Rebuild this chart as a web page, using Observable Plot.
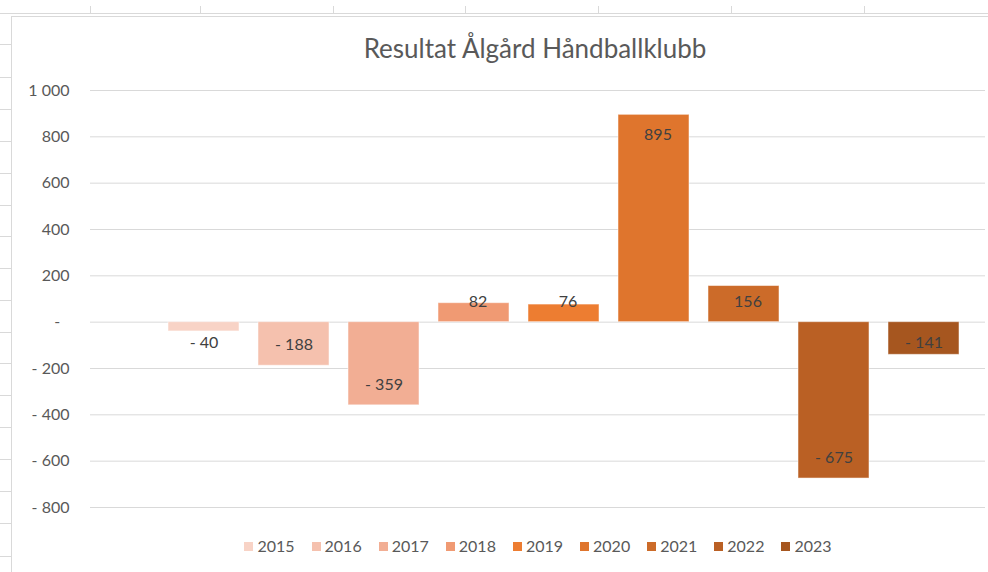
<!DOCTYPE html>
<html>
<head>
<meta charset="utf-8">
<script src="https://cdn.jsdelivr.net/npm/d3@7"></script>
<script src="https://cdn.jsdelivr.net/npm/@observablehq/plot@0.6"></script>
<style>
  html, body { margin: 0; padding: 0; background: #fff; }
  #page { position: relative; width: 988px; height: 572px; overflow: hidden; font-family: Lato, "Open Sans", sans-serif; }
  .ln { position: absolute; background: #d9d9d9; }
  #title { position: absolute; left: 0; width: 1070px; top: 35px; text-align: center; font-size: 26px; line-height: 26px; color: #595959; font-weight: 400; }
  #chart { position: absolute; left: 12px; top: 70px; }
  #legend { position: absolute; left: 0; width: 1076px; top: 536px; display: flex; justify-content: center; font-size: 16px; line-height: 20px; color: #595959; }
  .item { display: flex; align-items: center; margin: 0 8.5px; }
  .sw { width: 9px; height: 9px; margin-right: 4px; }
</style>
</head>
<body>
<div id="page">
  <div id="sheet"></div>
  <div id="title">Resultat Ålgård Håndballklubb</div>
  <div id="chart"></div>
  <div id="legend"></div>
</div>
<script>
// ---- data ----
const years = ["2015", "2016", "2017", "2018", "2019", "2020", "2021", "2022", "2023"];
const results = [-40, -188, -359, 82, 76, 895, 156, -675, -141];
const colors = ["#F8D3C6", "#F5C1AE", "#F2AE94", "#F09A73", "#ED7D31", "#DF752D", "#CC6B29", "#BA6024", "#A6561F"];
const yTicks = [-800, -600, -400, -200, 0, 200, 400, 600, 800, 1000];

const data = years.map((y, i) => ({ year: y, value: results[i] }));

// ---- spreadsheet background decoration ----
const sheet = document.getElementById("sheet");
function line(l, t, w, h) {
  const d = document.createElement("div");
  d.className = "ln";
  d.style.cssText = `left:${l}px;top:${t}px;width:${w}px;height:${h}px;`;
  sheet.appendChild(d);
}
line(0, 13, 988, 1);
[90, 200, 333, 465, 598, 731, 864].forEach(x => line(x, 6, 1, 7));
[44, 77, 109, 141, 173, 205, 236, 268, 300, 332, 363, 395, 427, 459, 491, 523, 556].forEach(y => line(0, y, 11, 1));
line(11, 16, 1, 556);
line(11, 16, 977, 1);

// ---- formatting (accounting style) ----
const num = v => d3.format(",")(Math.abs(v)).replace(/,/g, " ");
const tickFmt = v => v === 0 ? "-\u2007" : (v < 0 ? "- " + num(v) : num(v));
const labelFmt = v => v < 0 ? "- " + num(v) : "\u2002" + num(v);
// Excel "inside end" label placement
const labelY = v => Math.sign(v) * Math.max(88, Math.abs(v) - 88);

const chart = Plot.plot({
  width: 976,
  height: 455,
  marginLeft: 78,
  marginRight: 3,
  marginTop: 20,
  marginBottom: 18,
  style: { background: "transparent", fontFamily: "Lato, 'Open Sans', sans-serif", fontSize: "16px" },
  x: { domain: years, range: [137, 966], padding: 0.21, axis: null },
  y: { domain: [-800, 1000], axis: null },
  color: { domain: years, range: colors },
  marks: [
    Plot.gridY(yTicks, { stroke: "#d9d9d9", strokeOpacity: 1, strokeWidth: 1 }),
    Plot.axisY(yTicks, { tickSize: 0, tickPadding: 21, tickFormat: tickFmt, fill: "#595959", fontSize: 16, label: null }),
    Plot.barY(data, { x: "year", y: "value", fill: "year", stroke: "white", strokeOpacity: 0.5, strokeWidth: 1 }),
    Plot.text(data, { x: "year", y: d => labelY(d.value), text: d => labelFmt(d.value), fill: "#404040", fontSize: 16 })
  ]
});
document.getElementById("chart").appendChild(chart);

// ---- legend ----
const legend = document.getElementById("legend");
years.forEach((y, i) => {
  const it = document.createElement("div");
  it.className = "item";
  const sw = document.createElement("div");
  sw.className = "sw";
  sw.style.background = colors[i];
  const tx = document.createElement("span");
  tx.textContent = y;
  it.appendChild(sw);
  it.appendChild(tx);
  legend.appendChild(it);
});
</script>
</body>
</html>
